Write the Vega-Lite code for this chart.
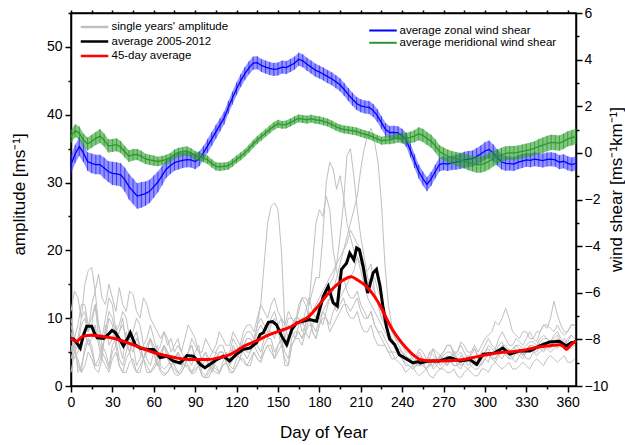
{
 "$schema": "https://vega.github.io/schema/vega-lite/v6.json",
 "width": 505, "height": 373,
 "autosize": {"type": "none"},
 "padding": {"left": 71, "top": 13, "right": 49, "bottom": 59},
 "background": "white",
 "config": {
  "view": {"stroke": "#000", "strokeWidth": 1.5},
  "font": "Liberation Sans",
  "axis": {"domainColor": "#000", "tickColor": "#000", "labelColor": "#000", "titleColor": "#000", "grid": false,
   "labelFont": "Liberation Sans", "titleFont": "Liberation Sans", "labelFontSize": 14, "titleFontSize": 17,
   "titleFontWeight": "normal", "domainWidth": 1.5, "tickWidth": 1.5}
 },
 "datasets": {
  "years": [
   {"d":0,"y1":9,"y2":4,"y3":11,"y4":6,"y5":2,"y6":8,"y7":5,"y8":10},
   {"d":2.5,"y1":6,"y2":6,"y3":14,"y4":4,"y5":5,"y6":5,"y7":7,"y8":7},
   {"d":5,"y1":7,"y2":3,"y3":13,"y4":5,"y5":4,"y6":6,"y7":2,"y8":9},
   {"d":7.5,"y1":10,"y2":2,"y3":10,"y4":7,"y5":2,"y6":9,"y7":3,"y8":12},
   {"d":10,"y1":11,"y2":6,"y3":15,"y4":8,"y5":3,"y6":10,"y7":5,"y8":12},
   {"d":12.5,"y1":8,"y2":7,"y3":17,"y4":6,"y5":5,"y6":8,"y7":7,"y8":9},
   {"d":15,"y1":9,"y2":5,"y3":17.5,"y4":7,"y5":4,"y6":12,"y7":6,"y8":10},
   {"d":17.5,"y1":12,"y2":3,"y3":14,"y4":9,"y5":2.5,"y6":14,"y7":3,"y8":12},
   {"d":20,"y1":7,"y2":3,"y3":16.5,"y4":6,"y5":2,"y6":9,"y7":4,"y8":9},
   {"d":22.5,"y1":5,"y2":5,"y3":13,"y4":4,"y5":4,"y6":7,"y7":6,"y8":6},
   {"d":25,"y1":8,"y2":4,"y3":12,"y4":9,"y5":3,"y6":10,"y7":5,"y8":7},
   {"d":27.5,"y1":11,"y2":2.5,"y3":15,"y4":6,"y5":2,"y6":13,"y7":3,"y8":10},
   {"d":30,"y1":10,"y2":5,"y3":13,"y4":7,"y5":4,"y6":12,"y7":6,"y8":9},
   {"d":32.5,"y1":7,"y2":6,"y3":11,"y4":9,"y5":5,"y6":8,"y7":7,"y8":6},
   {"d":35,"y1":8,"y2":3,"y3":14.5,"y4":6,"y5":3,"y6":9,"y7":4,"y8":8},
   {"d":37.5,"y1":10,"y2":2,"y3":12,"y4":4,"y5":2,"y6":11,"y7":3,"y8":9},
   {"d":40,"y1":6,"y2":4,"y3":11,"y4":8,"y5":2,"y6":10,"y7":5,"y8":7},
   {"d":42.5,"y1":5,"y2":5,"y3":14,"y4":6,"y5":3.5,"y6":7,"y7":7,"y8":5},
   {"d":45,"y1":7,"y2":3,"y3":13.5,"y4":5,"y5":4,"y6":8,"y7":6,"y8":7},
   {"d":47.5,"y1":8,"y2":2,"y3":11,"y4":7,"y5":2,"y6":10,"y7":3,"y8":8},
   {"d":50,"y1":5,"y2":2,"y3":10,"y4":6,"y5":3,"y6":9,"y7":4,"y8":6},
   {"d":52.5,"y1":4,"y2":4,"y3":13,"y4":4,"y5":4,"y6":6,"y7":6,"y8":4},
   {"d":55,"y1":6,"y2":3,"y3":12,"y4":5,"y5":2,"y6":7,"y7":4,"y8":5},
   {"d":57.5,"y1":7,"y2":2,"y3":10,"y4":7,"y5":2,"y6":9,"y7":3,"y8":7},
   {"d":60,"y1":5,"y2":2.5,"y3":9,"y4":6,"y5":3,"y6":7,"y7":5,"y8":5},
   {"d":62.5,"y1":3,"y2":3.5,"y3":8,"y4":4,"y5":4,"y6":5,"y7":6,"y8":3},
   {"d":65,"y1":4,"y2":2,"y3":7,"y4":5,"y5":2.5,"y6":6,"y7":3,"y8":4},
   {"d":67.5,"y1":6,"y2":1.5,"y3":8,"y4":6,"y5":1.8,"y6":8,"y7":2.5,"y8":6},
   {"d":70,"y1":5,"y2":2,"y3":6,"y4":4,"y5":2,"y6":7,"y7":3,"y8":5},
   {"d":72.5,"y1":4,"y2":3,"y3":7,"y4":3,"y5":3,"y6":5,"y7":4,"y8":3},
   {"d":75,"y1":3,"y2":2.5,"y3":5,"y4":4,"y5":1.8,"y6":6,"y7":3,"y8":4},
   {"d":77.5,"y1":5,"y2":1.8,"y3":6,"y4":5,"y5":1.5,"y6":7,"y7":2,"y8":5},
   {"d":80,"y1":4,"y2":2,"y3":5,"y4":3,"y5":2,"y6":5,"y7":2.5,"y8":4},
   {"d":82.5,"y1":3,"y2":3,"y3":7,"y4":4,"y5":3,"y6":4,"y7":4,"y8":3},
   {"d":85,"y1":5,"y2":3,"y3":9,"y4":4,"y5":2.5,"y6":5,"y7":3,"y8":5},
   {"d":87.5,"y1":6,"y2":2,"y3":8,"y4":3,"y5":1.8,"y6":7,"y7":2,"y8":6},
   {"d":90,"y1":4,"y2":2.5,"y3":7,"y4":5,"y5":2,"y6":6,"y7":3,"y8":4},
   {"d":92.5,"y1":3,"y2":3,"y3":5,"y4":6,"y5":3,"y6":5,"y7":4,"y8":3},
   {"d":95,"y1":3,"y2":1.5,"y3":5,"y4":3,"y5":1.5,"y6":4,"y7":2,"y8":4},
   {"d":97.5,"y1":4,"y2":1.2,"y3":7,"y4":2.5,"y5":1.2,"y6":5,"y7":1.5,"y8":5},
   {"d":100,"y1":3,"y2":1.3,"y3":6,"y4":4,"y5":2,"y6":4,"y7":2.5,"y8":3},
   {"d":102.5,"y1":2,"y2":2.5,"y3":5,"y4":5,"y5":3,"y6":3,"y7":3.5,"y8":2.5},
   {"d":105,"y1":4,"y2":2,"y3":6,"y4":5,"y5":2.5,"y6":5,"y7":3,"y8":4},
   {"d":107.5,"y1":5,"y2":1.8,"y3":8,"y4":4,"y5":2,"y6":6,"y7":2,"y8":5},
   {"d":110,"y1":5,"y2":3,"y3":7,"y4":4,"y5":3,"y6":6,"y7":3.5,"y8":5},
   {"d":112.5,"y1":3.5,"y2":3.5,"y3":6,"y4":5,"y5":3.5,"y6":4.5,"y7":4.5,"y8":3.5},
   {"d":115,"y1":4,"y2":2.5,"y3":6,"y4":3,"y5":2,"y6":5,"y7":3,"y8":4},
   {"d":117.5,"y1":5.5,"y2":2,"y3":8,"y4":4,"y5":2,"y6":7,"y7":2.5,"y8":6},
   {"d":120,"y1":5,"y2":3,"y3":7,"y4":5,"y5":3,"y6":6,"y7":4,"y8":5},
   {"d":122.5,"y1":4,"y2":4,"y3":6,"y4":6,"y5":4,"y6":5,"y7":5,"y8":4},
   {"d":125,"y1":6,"y2":3.5,"y3":8,"y4":6,"y5":4,"y6":7,"y7":5,"y8":6},
   {"d":127.5,"y1":7,"y2":3,"y3":9,"y4":5,"y5":3,"y6":8,"y7":4,"y8":7},
   {"d":130,"y1":7,"y2":4,"y3":9,"y4":5,"y5":3,"y6":8,"y7":5,"y8":7},
   {"d":132.5,"y1":6,"y2":5,"y3":8,"y4":7,"y5":5,"y6":7,"y7":6,"y8":6},
   {"d":135,"y1":9,"y2":4,"y3":10,"y4":6,"y5":4,"y6":9,"y7":5,"y8":8},
   {"d":137.5,"y1":12,"y2":3.5,"y3":12,"y4":5,"y5":3.5,"y6":10,"y7":4,"y8":9},
   {"d":140,"y1":18,"y2":5,"y3":11,"y4":7,"y5":5,"y6":9,"y7":6,"y8":8},
   {"d":142.5,"y1":24,"y2":6,"y3":10,"y4":8,"y5":6,"y6":8,"y7":7,"y8":7},
   {"d":145,"y1":26.5,"y2":6,"y3":12,"y4":8,"y5":5,"y6":10,"y7":7,"y8":9},
   {"d":147.5,"y1":27,"y2":4,"y3":13,"y4":7,"y5":4,"y6":11,"y7":5,"y8":10},
   {"d":150,"y1":26,"y2":5,"y3":11,"y4":9,"y5":6,"y6":9,"y7":6,"y8":8},
   {"d":152.5,"y1":20,"y2":6,"y3":10,"y4":10,"y5":7,"y6":8,"y7":7,"y8":6},
   {"d":155,"y1":9,"y2":4,"y3":9,"y4":7,"y5":3,"y6":8,"y7":5,"y8":7},
   {"d":157.5,"y1":7,"y2":3,"y3":11,"y4":6,"y5":3,"y6":10,"y7":4,"y8":9},
   {"d":160,"y1":8,"y2":6,"y3":10,"y4":9,"y5":6,"y6":10,"y7":7,"y8":8},
   {"d":162.5,"y1":10,"y2":7,"y3":9,"y4":10,"y5":7,"y6":9,"y7":8,"y8":7},
   {"d":165,"y1":10,"y2":7,"y3":11,"y4":10,"y5":8,"y6":12,"y7":8,"y8":9},
   {"d":167.5,"y1":8,"y2":6,"y3":13,"y4":9,"y5":7,"y6":13,"y7":7,"y8":10},
   {"d":170,"y1":9,"y2":8,"y3":13,"y4":11,"y5":9,"y6":12,"y7":8,"y8":8},
   {"d":172.5,"y1":11,"y2":9,"y3":12,"y4":13,"y5":12,"y6":10,"y7":10,"y8":7},
   {"d":175,"y1":8,"y2":9,"y3":14,"y4":11,"y5":18,"y6":11,"y7":8,"y8":9},
   {"d":177.5,"y1":7,"y2":8,"y3":16,"y4":10,"y5":24,"y6":12,"y7":7,"y8":10},
   {"d":180,"y1":9,"y2":10,"y3":16,"y4":12,"y5":26,"y6":13,"y7":9,"y8":10},
   {"d":182.5,"y1":11,"y2":11,"y3":22,"y4":13,"y5":25,"y6":14,"y7":10,"y8":9},
   {"d":185,"y1":10,"y2":12,"y3":30,"y4":14,"y5":28,"y6":15,"y7":10,"y8":11},
   {"d":187.5,"y1":8,"y2":13,"y3":33,"y4":15,"y5":26,"y6":16,"y7":9,"y8":13},
   {"d":190,"y1":9,"y2":14,"y3":32,"y4":16,"y5":20,"y6":17,"y7":11,"y8":12},
   {"d":192.5,"y1":10,"y2":16,"y3":29,"y4":18,"y5":17,"y6":18,"y7":12,"y8":11},
   {"d":195,"y1":11,"y2":18,"y3":31,"y4":22,"y5":15,"y6":19,"y7":13,"y8":12},
   {"d":197.5,"y1":12,"y2":20,"y3":28,"y4":27,"y5":16,"y6":20,"y7":14,"y8":13},
   {"d":200,"y1":12,"y2":22,"y3":24,"y4":34,"y5":14,"y6":21,"y7":15,"y8":11},
   {"d":202.5,"y1":11,"y2":24,"y3":22,"y4":35,"y5":13,"y6":23,"y7":16,"y8":10},
   {"d":205,"y1":12,"y2":26,"y3":20,"y4":31,"y5":13,"y6":22,"y7":17,"y8":10},
   {"d":207.5,"y1":13,"y2":28,"y3":19,"y4":26,"y5":14,"y6":21,"y7":19,"y8":11},
   {"d":210,"y1":11,"y2":32,"y3":17,"y4":22,"y5":12,"y6":20,"y7":18,"y8":9},
   {"d":212.5,"y1":10,"y2":35,"y3":15,"y4":19,"y5":11,"y6":18,"y7":17,"y8":8},
   {"d":215,"y1":10,"y2":37,"y3":13,"y4":16,"y5":10,"y6":15,"y7":17,"y8":8},
   {"d":217.5,"y1":11,"y2":38,"y3":12,"y4":15,"y5":11,"y6":16,"y7":18,"y8":9},
   {"d":220,"y1":9,"y2":36,"y3":11,"y4":14,"y5":9,"y6":16,"y7":14,"y8":7},
   {"d":222.5,"y1":8,"y2":33,"y3":10,"y4":12,"y5":8,"y6":14,"y7":12,"y8":6},
   {"d":225,"y1":8,"y2":27,"y3":9,"y4":10,"y5":7,"y6":13,"y7":11,"y8":6},
   {"d":227.5,"y1":7,"y2":18,"y3":8,"y4":9,"y5":6,"y6":11,"y7":9,"y8":6},
   {"d":230,"y1":6,"y2":12,"y3":7,"y4":8,"y5":5,"y6":9,"y7":8,"y8":5},
   {"d":232.5,"y1":5,"y2":9,"y3":7,"y4":7,"y5":5,"y6":8,"y7":7,"y8":4},
   {"d":235,"y1":5,"y2":7,"y3":6,"y4":6,"y5":4,"y6":7,"y7":6,"y8":4},
   {"d":237.5,"y1":4.5,"y2":6,"y3":5,"y4":5.5,"y5":3.5,"y6":6.5,"y7":5.5,"y8":4.5},
   {"d":240,"y1":4,"y2":5,"y3":5,"y4":5,"y5":3,"y6":6,"y7":5,"y8":4},
   {"d":242.5,"y1":3.5,"y2":4.5,"y3":4.5,"y4":4,"y5":2,"y6":5,"y7":4.5,"y8":3},
   {"d":245,"y1":3,"y2":4,"y3":4,"y4":4,"y5":2.5,"y6":5,"y7":4,"y8":3},
   {"d":247.5,"y1":2.5,"y2":4,"y3":3,"y4":3.5,"y5":3,"y6":4,"y7":3.5,"y8":2.5},
   {"d":250,"y1":3,"y2":3.5,"y3":4,"y4":3,"y5":2,"y6":4.5,"y7":4,"y8":3},
   {"d":252.5,"y1":4,"y2":3,"y3":5,"y4":3,"y5":1.5,"y6":5.5,"y7":4.5,"y8":3.5},
   {"d":255,"y1":3.5,"y2":3,"y3":4,"y4":3.5,"y5":2,"y6":5,"y7":4,"y8":3},
   {"d":257.5,"y1":2.5,"y2":4,"y3":3.5,"y4":4,"y5":2.5,"y6":4,"y7":3.5,"y8":2.5},
   {"d":260,"y1":3,"y2":4,"y3":5,"y4":3,"y5":1.5,"y6":4,"y7":5,"y8":3.5},
   {"d":262.5,"y1":4,"y2":2.5,"y3":5.5,"y4":3,"y5":1.2,"y6":5.5,"y7":4.5,"y8":4},
   {"d":265,"y1":4,"y2":3,"y3":4,"y4":4,"y5":2,"y6":5,"y7":4,"y8":3},
   {"d":267.5,"y1":3,"y2":4.5,"y3":4,"y4":4.5,"y5":2.5,"y6":4.5,"y7":3.5,"y8":2.5},
   {"d":270,"y1":3.5,"y2":4,"y3":5,"y4":3.5,"y5":2.5,"y6":5,"y7":4.5,"y8":3},
   {"d":272.5,"y1":4.5,"y2":3,"y3":6,"y4":3,"y5":2,"y6":6,"y7":5,"y8":3.5},
   {"d":275,"y1":4,"y2":3.5,"y3":6,"y4":4,"y5":2,"y6":6,"y7":5,"y8":3.5},
   {"d":277.5,"y1":3,"y2":4.5,"y3":4.5,"y4":5,"y5":2.5,"y6":5,"y7":4,"y8":3},
   {"d":280,"y1":3,"y2":3,"y3":5,"y4":4,"y5":1.5,"y6":5,"y7":4.5,"y8":3},
   {"d":282.5,"y1":4.5,"y2":2.5,"y3":6,"y4":3,"y5":1.2,"y6":6.5,"y7":5,"y8":3.5},
   {"d":285,"y1":4,"y2":3.5,"y3":5,"y4":3.5,"y5":2,"y6":6,"y7":4,"y8":3},
   {"d":287.5,"y1":3,"y2":4,"y3":4,"y4":4.5,"y5":2.5,"y6":5,"y7":3.5,"y8":2.5},
   {"d":290,"y1":3.5,"y2":3,"y3":4.5,"y4":4,"y5":2,"y6":5,"y7":5,"y8":3},
   {"d":292.5,"y1":4,"y2":2.5,"y3":5.5,"y4":3,"y5":1.5,"y6":6,"y7":5.5,"y8":3.5},
   {"d":295,"y1":3,"y2":2.5,"y3":4,"y4":3,"y5":1.5,"y6":5,"y7":4.5,"y8":3.5},
   {"d":297.5,"y1":4,"y2":3.5,"y3":5,"y4":4,"y5":2.5,"y6":6,"y7":4,"y8":3},
   {"d":300,"y1":5,"y2":4,"y3":6,"y4":4.5,"y5":2.5,"y6":7,"y7":5,"y8":4},
   {"d":302.5,"y1":5.5,"y2":3.5,"y3":7,"y4":5,"y5":2,"y6":7.5,"y7":6,"y8":4.5},
   {"d":305,"y1":4.5,"y2":5,"y3":6,"y4":4,"y5":3,"y6":8,"y7":5.5,"y8":4},
   {"d":307.5,"y1":4,"y2":5.5,"y3":5.5,"y4":4,"y5":3.5,"y6":9.5,"y7":5,"y8":3.5},
   {"d":310,"y1":5,"y2":4.5,"y3":7,"y4":5,"y5":3,"y6":9,"y7":6,"y8":4.5},
   {"d":312.5,"y1":6,"y2":4,"y3":8,"y4":5.5,"y5":2.5,"y6":10,"y7":6.5,"y8":5},
   {"d":315,"y1":6,"y2":5,"y3":7,"y4":4.5,"y5":3,"y6":11.5,"y7":5,"y8":5},
   {"d":317.5,"y1":5,"y2":5.5,"y3":6,"y4":4,"y5":3.5,"y6":10,"y7":5,"y8":4},
   {"d":320,"y1":5,"y2":4,"y3":6,"y4":5,"y5":2.5,"y6":8,"y7":5.5,"y8":4},
   {"d":322.5,"y1":6,"y2":3.5,"y3":7,"y4":5.5,"y5":2.5,"y6":7.5,"y7":6,"y8":5},
   {"d":325,"y1":5.5,"y2":4.5,"y3":6.5,"y4":5,"y5":3,"y6":7,"y7":6,"y8":4.5},
   {"d":327.5,"y1":4.5,"y2":5,"y3":6,"y4":4.5,"y5":3.5,"y6":8,"y7":5.5,"y8":4},
   {"d":330,"y1":5,"y2":4,"y3":7,"y4":5.5,"y5":3,"y6":8,"y7":6,"y8":5},
   {"d":332.5,"y1":6,"y2":4,"y3":8,"y4":6,"y5":2.5,"y6":7,"y7":6.5,"y8":5.5},
   {"d":335,"y1":6,"y2":5,"y3":7,"y4":5,"y5":3.5,"y6":7,"y7":6.5,"y8":5},
   {"d":337.5,"y1":5.5,"y2":5.5,"y3":6.5,"y4":5,"y5":4,"y6":8,"y7":6,"y8":4.5},
   {"d":340,"y1":6.5,"y2":5.5,"y3":8,"y4":6,"y5":3.5,"y6":8,"y7":7,"y8":5},
   {"d":342.5,"y1":7,"y2":5,"y3":9,"y4":6.5,"y5":3,"y6":9,"y7":7.5,"y8":5.5},
   {"d":345,"y1":7,"y2":6,"y3":8.5,"y4":6,"y5":4,"y6":9,"y7":7,"y8":5.5},
   {"d":347.5,"y1":6.5,"y2":6.5,"y3":10,"y4":5.5,"y5":4.5,"y6":8.5,"y7":6.5,"y8":5},
   {"d":350,"y1":7.5,"y2":6,"y3":12.5,"y4":6.5,"y5":4,"y6":8,"y7":7,"y8":5.5},
   {"d":352.5,"y1":8,"y2":5.5,"y3":10.5,"y4":7,"y5":3.5,"y6":9,"y7":7.5,"y8":6},
   {"d":355,"y1":7,"y2":6.5,"y3":9,"y4":6,"y5":4,"y6":8,"y7":6.5,"y8":6},
   {"d":357.5,"y1":6.5,"y2":7,"y3":8,"y4":5.5,"y5":4.5,"y6":7.5,"y7":6,"y8":5.5},
   {"d":360,"y1":6.5,"y2":6,"y3":8,"y4":6,"y5":3.5,"y6":8,"y7":7,"y8":5.5},
   {"d":362.5,"y1":7.5,"y2":5.5,"y3":9,"y4":6.5,"y5":3.5,"y6":9,"y7":7.5,"y8":6},
   {"d":365,"y1":7,"y2":6,"y3":9,"y4":6.5,"y5":4,"y6":9,"y7":7,"y8":6}
  ],
  "avg": [
   {"d":0,"a":7.0},{"d":2,"a":6.9},{"d":4,"a":6.4},{"d":6.7,"a":5.6},{"d":9,"a":7.5},{"d":11.4,"a":8.8},{"d":15,"a":8.8},{"d":17,"a":7.8},{"d":19,"a":7.1},{"d":23.6,"a":7.0},{"d":27,"a":7.6},{"d":29.7,"a":8.2},{"d":32,"a":7.9},{"d":34.5,"a":7.1},{"d":38,"a":5.9},{"d":41,"a":7.0},{"d":43,"a":7.85},{"d":46.5,"a":6.1},{"d":50,"a":5.6},{"d":55,"a":5.4},{"d":59.8,"a":5.4},{"d":62,"a":4.9},{"d":64.6,"a":4.2},{"d":69.5,"a":4.4},{"d":74,"a":3.7},{"d":79,"a":3.4},{"d":82,"a":4.0},{"d":84,"a":4.5},{"d":88.7,"a":4.4},{"d":91,"a":3.9},{"d":93.6,"a":3.2},{"d":97,"a":2.7},{"d":100.8,"a":3.2},{"d":105.6,"a":3.9},{"d":110.4,"a":4.4},{"d":115,"a":3.7},{"d":120,"a":4.7},{"d":125,"a":5.4},{"d":129.7,"a":5.6},{"d":134.6,"a":6.4},{"d":137,"a":7.6},{"d":139.4,"a":7.85},{"d":143,"a":9.4},{"d":146,"a":9.5},{"d":149,"a":9.0},{"d":152.7,"a":7.35},{"d":156.3,"a":6.1},{"d":160,"a":8.3},{"d":163.5,"a":9.3},{"d":168,"a":9.56},{"d":173,"a":9.8},{"d":178,"a":9.56},{"d":180.5,"a":11.5},{"d":182.8,"a":13.2},{"d":186.4,"a":14.7},{"d":190,"a":12.3},{"d":193,"a":11.8},{"d":196,"a":17.2},{"d":199.7,"a":18.1},{"d":202,"a":19.6},{"d":205,"a":18.6},{"d":207,"a":20.35},{"d":209,"a":20.1},{"d":211.7,"a":17.6},{"d":215,"a":13.7},{"d":219,"a":16.7},{"d":221.4,"a":17.2},{"d":224,"a":14.7},{"d":226,"a":11.8},{"d":228.6,"a":8.8},{"d":231,"a":6.9},{"d":234.6,"a":6.1},{"d":238,"a":4.6},{"d":243,"a":4.0},{"d":248,"a":3.4},{"d":251.5,"a":3.6},{"d":253,"a":3.4},{"d":260,"a":3.7},{"d":267,"a":3.7},{"d":274.5,"a":4.2},{"d":282,"a":3.7},{"d":289,"a":3.9},{"d":294,"a":3.2},{"d":298.6,"a":4.7},{"d":306,"a":4.8},{"d":313,"a":5.6},{"d":318,"a":4.7},{"d":325,"a":5.15},{"d":332.5,"a":5.15},{"d":339.6,"a":5.9},{"d":347,"a":6.5},{"d":354,"a":6.6},{"d":359,"a":5.9},{"d":362.5,"a":6.4},{"d":366,"a":6.5}
  ],
  "smooth": [
   {"d":0,"r":7.0},{"d":4,"r":6.6},{"d":8.6,"r":7.35},{"d":15,"r":7.5},{"d":22,"r":7.35},{"d":31.5,"r":7.0},{"d":46,"r":6.0},{"d":60.5,"r":4.9},{"d":75,"r":4.2},{"d":85,"r":3.9},{"d":99,"r":3.9},{"d":108,"r":4.2},{"d":116,"r":4.7},{"d":121,"r":5.3},{"d":125.6,"r":5.9},{"d":134,"r":6.6},{"d":143,"r":7.5},{"d":151,"r":8.1},{"d":159,"r":8.7},{"d":166,"r":9.5},{"d":172,"r":10.2},{"d":178,"r":11.5},{"d":185,"r":13.3},{"d":192,"r":14.8},{"d":198,"r":15.7},{"d":203,"r":16.1},{"d":208,"r":15.6},{"d":214,"r":14.7},{"d":220,"r":13.2},{"d":225,"r":11.5},{"d":229,"r":9.8},{"d":233,"r":8.3},{"d":237,"r":7.1},{"d":243,"r":5.6},{"d":248,"r":4.6},{"d":253,"r":3.9},{"d":260,"r":3.7},{"d":267,"r":3.7},{"d":280,"r":3.8},{"d":296,"r":4.4},{"d":310,"r":4.9},{"d":325,"r":5.15},{"d":340,"r":5.8},{"d":347,"r":5.95},{"d":354,"r":6.1},{"d":357,"r":5.8},{"d":359,"r":5.4},{"d":362.5,"r":6.1},{"d":366,"r":6.7}
  ],
  "shear": [
   {"d":0,"u":-0.5,"ue":0.4,"v":0.7,"ve":0.28},{"d":3,"u":-0.05,"ue":0.4,"v":0.95,"ve":0.28},{"d":6,"u":0.27,"ue":0.4,"v":0.85,"ve":0.28},{"d":9,"u":0.0,"ue":0.4,"v":0.55,"ve":0.28},{"d":12,"u":-0.37,"ue":0.4,"v":0.38,"ve":0.28},{"d":15,"u":-0.45,"ue":0.42,"v":0.5,"ve":0.28},{"d":18,"u":-0.5,"ue":0.42,"v":0.62,"ve":0.28},{"d":21,"u":-0.5,"ue":0.42,"v":0.72,"ve":0.3},{"d":24,"u":-0.65,"ue":0.45,"v":0.55,"ve":0.28},{"d":27,"u":-0.8,"ue":0.45,"v":0.3,"ve":0.28},
   {"d":30,"u":-0.88,"ue":0.5,"v":0.32,"ve":0.28},{"d":33,"u":-0.9,"ue":0.5,"v":0.35,"ve":0.28},{"d":36,"u":-0.94,"ue":0.5,"v":0.25,"ve":0.26},{"d":39,"u":-1.15,"ue":0.52,"v":0.05,"ve":0.25},{"d":42,"u":-1.45,"ue":0.55,"v":-0.14,"ve":0.25},{"d":45,"u":-1.65,"ue":0.55,"v":-0.08,"ve":0.25},{"d":48,"u":-1.85,"ue":0.55,"v":-0.07,"ve":0.24},{"d":51,"u":-1.8,"ue":0.55,"v":-0.15,"ve":0.24},{"d":54,"u":-1.75,"ue":0.52,"v":-0.26,"ve":0.22},{"d":57,"u":-1.65,"ue":0.5,"v":-0.3,"ve":0.22},
   {"d":60,"u":-1.45,"ue":0.48,"v":-0.33,"ve":0.22},{"d":63,"u":-1.25,"ue":0.45,"v":-0.37,"ve":0.2},{"d":66,"u":-0.98,"ue":0.42,"v":-0.33,"ve":0.2},{"d":69,"u":-0.7,"ue":0.38,"v":-0.28,"ve":0.2},{"d":72,"u":-0.55,"ue":0.36,"v":-0.2,"ve":0.2},{"d":75,"u":-0.42,"ue":0.35,"v":-0.05,"ve":0.2},{"d":78,"u":-0.36,"ue":0.35,"v":0.02,"ve":0.2},{"d":81,"u":-0.32,"ue":0.33,"v":0.05,"ve":0.2},{"d":84,"u":-0.29,"ue":0.33,"v":0.08,"ve":0.2},{"d":87,"u":-0.3,"ue":0.33,"v":0.0,"ve":0.2},
   {"d":90,"u":-0.37,"ue":0.33,"v":-0.12,"ve":0.2},{"d":93,"u":-0.25,"ue":0.32,"v":-0.16,"ve":0.18},{"d":96,"u":0.0,"ue":0.3,"v":-0.22,"ve":0.18},{"d":99,"u":0.3,"ue":0.3,"v":-0.3,"ve":0.18},{"d":102,"u":0.6,"ue":0.3,"v":-0.45,"ve":0.18},{"d":105,"u":0.9,"ue":0.3,"v":-0.58,"ve":0.18},{"d":108,"u":1.2,"ue":0.28,"v":-0.6,"ve":0.18},{"d":111,"u":1.5,"ue":0.28,"v":-0.58,"ve":0.17},{"d":114,"u":1.95,"ue":0.28,"v":-0.55,"ve":0.17},{"d":117,"u":2.35,"ue":0.28,"v":-0.42,"ve":0.17},
   {"d":120,"u":2.75,"ue":0.28,"v":-0.28,"ve":0.17},{"d":123,"u":3.1,"ue":0.28,"v":-0.15,"ve":0.17},{"d":126,"u":3.4,"ue":0.28,"v":0.0,"ve":0.17},{"d":129,"u":3.65,"ue":0.28,"v":0.18,"ve":0.17},{"d":132,"u":3.85,"ue":0.28,"v":0.38,"ve":0.17},{"d":135,"u":3.87,"ue":0.28,"v":0.55,"ve":0.17},{"d":138,"u":3.75,"ue":0.28,"v":0.7,"ve":0.17},{"d":141,"u":3.68,"ue":0.28,"v":0.85,"ve":0.17},{"d":144,"u":3.62,"ue":0.28,"v":1.0,"ve":0.17},{"d":147,"u":3.58,"ue":0.28,"v":1.15,"ve":0.17},
   {"d":150,"u":3.6,"ue":0.28,"v":1.25,"ve":0.17},{"d":153,"u":3.68,"ue":0.28,"v":1.2,"ve":0.17},{"d":156,"u":3.66,"ue":0.28,"v":1.22,"ve":0.17},{"d":159,"u":3.75,"ue":0.28,"v":1.3,"ve":0.17},{"d":162,"u":3.85,"ue":0.28,"v":1.4,"ve":0.17},{"d":165,"u":4.02,"ue":0.28,"v":1.48,"ve":0.17},{"d":168,"u":3.95,"ue":0.28,"v":1.45,"ve":0.17},{"d":171,"u":3.8,"ue":0.28,"v":1.42,"ve":0.17},{"d":174,"u":3.68,"ue":0.28,"v":1.47,"ve":0.17},{"d":177,"u":3.55,"ue":0.28,"v":1.42,"ve":0.17},
   {"d":180,"u":3.47,"ue":0.28,"v":1.4,"ve":0.17},{"d":183,"u":3.38,"ue":0.28,"v":1.35,"ve":0.17},{"d":186,"u":3.27,"ue":0.28,"v":1.3,"ve":0.17},{"d":189,"u":3.18,"ue":0.28,"v":1.22,"ve":0.17},{"d":192,"u":3.05,"ue":0.28,"v":1.12,"ve":0.17},{"d":195,"u":2.92,"ue":0.28,"v":1.05,"ve":0.17},{"d":198,"u":2.72,"ue":0.28,"v":1.0,"ve":0.17},{"d":201,"u":2.5,"ue":0.28,"v":0.98,"ve":0.17},{"d":204,"u":2.3,"ue":0.28,"v":0.95,"ve":0.17},{"d":207,"u":2.12,"ue":0.28,"v":0.92,"ve":0.17},
   {"d":210,"u":2.02,"ue":0.28,"v":0.85,"ve":0.17},{"d":213,"u":1.97,"ue":0.28,"v":0.8,"ve":0.17},{"d":216,"u":1.95,"ue":0.28,"v":0.75,"ve":0.17},{"d":219,"u":1.82,"ue":0.28,"v":0.68,"ve":0.17},{"d":222,"u":1.6,"ue":0.28,"v":0.6,"ve":0.17},{"d":225,"u":1.3,"ue":0.28,"v":0.52,"ve":0.17},{"d":228,"u":1.0,"ue":0.28,"v":0.55,"ve":0.18},{"d":231,"u":0.87,"ue":0.28,"v":0.55,"ve":0.18},{"d":234,"u":0.88,"ue":0.28,"v":0.6,"ve":0.2},{"d":237,"u":0.86,"ue":0.28,"v":0.65,"ve":0.2},
   {"d":240,"u":0.75,"ue":0.28,"v":0.62,"ve":0.22},{"d":243,"u":0.55,"ue":0.3,"v":0.62,"ve":0.24},{"d":246,"u":0.1,"ue":0.3,"v":0.66,"ve":0.25},{"d":249,"u":-0.35,"ue":0.3,"v":0.72,"ve":0.26},{"d":252,"u":-0.8,"ue":0.3,"v":0.82,"ve":0.28},{"d":255,"u":-1.1,"ue":0.3,"v":0.75,"ve":0.28},{"d":258,"u":-1.35,"ue":0.3,"v":0.62,"ve":0.28},{"d":261,"u":-1.12,"ue":0.3,"v":0.5,"ve":0.28},{"d":264,"u":-0.8,"ue":0.3,"v":0.3,"ve":0.28},{"d":267,"u":-0.5,"ue":0.3,"v":0.06,"ve":0.28},
   {"d":270,"u":-0.45,"ue":0.3,"v":-0.05,"ve":0.28},{"d":273,"u":-0.48,"ue":0.3,"v":-0.14,"ve":0.28},{"d":276,"u":-0.43,"ue":0.3,"v":-0.2,"ve":0.28},{"d":279,"u":-0.4,"ue":0.32,"v":-0.26,"ve":0.3},{"d":282,"u":-0.36,"ue":0.33,"v":-0.29,"ve":0.3},{"d":285,"u":-0.3,"ue":0.35,"v":-0.35,"ve":0.32},{"d":288,"u":-0.27,"ue":0.35,"v":-0.42,"ve":0.33},{"d":291,"u":-0.25,"ue":0.35,"v":-0.46,"ve":0.34},{"d":294,"u":-0.15,"ue":0.36,"v":-0.5,"ve":0.35},{"d":297,"u":-0.05,"ue":0.37,"v":-0.5,"ve":0.35},
   {"d":300,"u":0.08,"ue":0.38,"v":-0.45,"ve":0.35},{"d":303,"u":0.15,"ue":0.38,"v":-0.36,"ve":0.35},{"d":306,"u":0.0,"ue":0.36,"v":-0.25,"ve":0.33},{"d":309,"u":-0.2,"ue":0.35,"v":-0.17,"ve":0.32},{"d":312,"u":-0.38,"ue":0.33,"v":-0.08,"ve":0.3},{"d":315,"u":-0.45,"ue":0.32,"v":-0.02,"ve":0.3},{"d":318,"u":-0.46,"ue":0.3,"v":0.0,"ve":0.3},{"d":321,"u":-0.48,"ue":0.3,"v":0.0,"ve":0.3},{"d":324,"u":-0.4,"ue":0.3,"v":0.02,"ve":0.3},{"d":327,"u":-0.35,"ue":0.3,"v":0.06,"ve":0.3},
   {"d":330,"u":-0.3,"ue":0.3,"v":0.1,"ve":0.3},{"d":333,"u":-0.32,"ue":0.3,"v":0.14,"ve":0.3},{"d":336,"u":-0.27,"ue":0.3,"v":0.2,"ve":0.3},{"d":339,"u":-0.3,"ue":0.3,"v":0.27,"ve":0.32},{"d":342,"u":-0.33,"ue":0.3,"v":0.33,"ve":0.33},{"d":345,"u":-0.28,"ue":0.3,"v":0.4,"ve":0.33},{"d":348,"u":-0.27,"ue":0.3,"v":0.45,"ve":0.33},{"d":351,"u":-0.3,"ue":0.3,"v":0.44,"ve":0.33},{"d":354,"u":-0.4,"ue":0.3,"v":0.42,"ve":0.33},{"d":357,"u":-0.36,"ue":0.3,"v":0.5,"ve":0.33},
   {"d":360,"u":-0.45,"ue":0.3,"v":0.6,"ve":0.33},{"d":363,"u":-0.5,"ue":0.3,"v":0.65,"ve":0.33},{"d":366,"u":-0.45,"ue":0.3,"v":0.7,"ve":0.33}
  ]
 },
 "layer": [
  {
   "layer": [
    {
     "data": {"name": "years"},
     "transform": [{"fold": ["y1","y2","y3","y4","y5","y6","y7","y8"], "as": ["yr","amp"]}],
     "mark": {"type": "line", "strokeWidth": 1},
     "encoding": {
      "x": {"field": "d", "type": "quantitative", "scale": {"domain": [0, 366], "nice": false, "zero": false},
       "axis": {"orient": "bottom", "values": [0,30,60,90,120,150,180,210,240,270,300,330,360],
        "tickSize": 6, "labelPadding": 3, "labelFlush": false, "title": "Day of Year", "titlePadding": 15}},
      "y": {"field": "amp", "type": "quantitative", "scale": {"domain": [0, 55], "nice": false, "zero": true},
       "axis": {"orient": "left", "values": [0,10,20,30,40,50],
        "tickSize": 6, "labelPadding": 3, "title": "amplitude [ms⁻¹]", "titlePadding": 18, "titleY": 181}},
      "detail": {"field": "yr", "type": "nominal"},
      "color": {"datum": "single years' amplitude", "type": "nominal",
       "scale": {"domain": ["single years' amplitude", "average 2005-2012", "45-day average"], "range": ["#c0c0c0", "#000000", "#ff0000"]},
       "legend": {"title": null, "orient": "none", "legendX": 16.5, "legendY": 7, "symbolType": "M-2.5,0H2.5", "symbolSize": 121,
        "symbolStrokeWidth": 2.5, "labelFontSize": 11.5, "labelFont": "Liberation Sans", "labelColor": "#000", "labelOffset": 10,
        "rowPadding": 1.5, "padding": 0}}
     }
    },
    {
     "data": {"name": "avg"},
     "mark": {"type": "line", "strokeWidth": 3},
     "encoding": {
      "x": {"field": "d", "type": "quantitative",
       "axis": {"orient": "top", "values": [0,15,30,45,60,75,90,105,120,135,150,165,180,195,210,225,240,255,270,285,300,315,330,345,360],
        "labels": false, "title": null, "tickSize": 3}},
      "y": {"field": "a", "type": "quantitative",
       "axis": {"orient": "right", "labels": false, "ticks": false, "domain": false, "title": null}},
      "color": {"datum": "average 2005-2012", "type": "nominal"}
     }
    },
    {
     "data": {"name": "smooth"},
     "mark": {"type": "line", "strokeWidth": 3, "interpolate": "monotone"},
     "encoding": {
      "x": {"field": "d", "type": "quantitative",
       "axis": {"orient": "bottom", "values": [15,45,75,105,135,165,195,225,255,285,315,345],
        "labels": false, "domain": false, "title": null, "tickSize": 3}},
      "y": {"field": "r", "type": "quantitative",
       "axis": {"orient": "left", "values": [5,15,25,35,45,55], "labels": false, "domain": false, "title": null, "tickSize": 3}},
      "color": {"datum": "45-day average", "type": "nominal"}
     }
    }
   ]
  },
  {
   "data": {"name": "shear"},
   "layer": [
    {
     "mark": {"type": "errorband", "color": "#3a3aff", "opacity": 0.55},
     "encoding": {
      "x": {"field": "d", "type": "quantitative", "axis": null},
      "y": {"field": "u", "type": "quantitative", "scale": {"domain": [-10, 6], "nice": false, "zero": false},
       "axis": {"orient": "right", "values": [-10,-8,-6,-4,-2,0,2,4,6],
        "tickSize": 6, "labelPadding": 2, "title": "wind shear [ms⁻¹km⁻¹]", "titlePadding": 1,
        "titleAngle": 270, "titleBaseline": "top", "titleY": 176}},
      "yError": {"field": "ue"}
     }
    },
    {
     "mark": {"type": "errorbar", "color": "#0000ff", "opacity": 0.6, "thickness": 1},
     "encoding": {
      "x": {"field": "d", "type": "quantitative", "axis": null},
      "y": {"field": "u", "type": "quantitative",
       "axis": {"orient": "left", "labels": false, "ticks": false, "domain": false, "title": null}},
      "yError": {"field": "ue"}
     }
    },
    {
     "mark": {"type": "line", "strokeWidth": 1.3},
     "encoding": {
      "x": {"field": "d", "type": "quantitative", "axis": null},
      "y": {"field": "u", "type": "quantitative",
       "axis": {"orient": "right", "values": [-9,-7,-5,-3,-1,1,3,5], "labels": false, "domain": false, "title": null, "tickSize": 3}},
      "color": {"datum": "average zonal wind shear", "type": "nominal",
       "scale": {"domain": ["average zonal wind shear", "average meridional wind shear"], "range": ["#0000ff", "#2e962e"]},
       "legend": {"title": null, "orient": "none", "legendX": 305.5, "legendY": 11, "symbolType": "M-2.5,0H2.5", "symbolSize": 121,
        "symbolStrokeWidth": 2, "labelFontSize": 11.5, "labelFont": "Liberation Sans", "labelColor": "#000", "labelOffset": 10,
        "rowPadding": 0.3, "padding": 0}}
     }
    },
    {
     "mark": {"type": "errorband", "color": "#2ca02c", "opacity": 0.6},
     "encoding": {
      "x": {"field": "d", "type": "quantitative", "axis": null},
      "y": {"field": "v", "type": "quantitative", "axis": null},
      "yError": {"field": "ve"}
     }
    },
    {
     "mark": {"type": "errorbar", "color": "#138a13", "opacity": 0.6, "thickness": 1},
     "encoding": {
      "x": {"field": "d", "type": "quantitative", "axis": null},
      "y": {"field": "v", "type": "quantitative", "axis": null},
      "yError": {"field": "ve"}
     }
    },
    {
     "mark": {"type": "line", "strokeWidth": 1.3},
     "encoding": {
      "x": {"field": "d", "type": "quantitative", "axis": null},
      "y": {"field": "v", "type": "quantitative", "axis": null},
      "color": {"datum": "average meridional wind shear", "type": "nominal"}
     }
    }
   ]
  }
 ],
 "resolve": {"scale": {"y": "independent", "color": "independent"}}
}
